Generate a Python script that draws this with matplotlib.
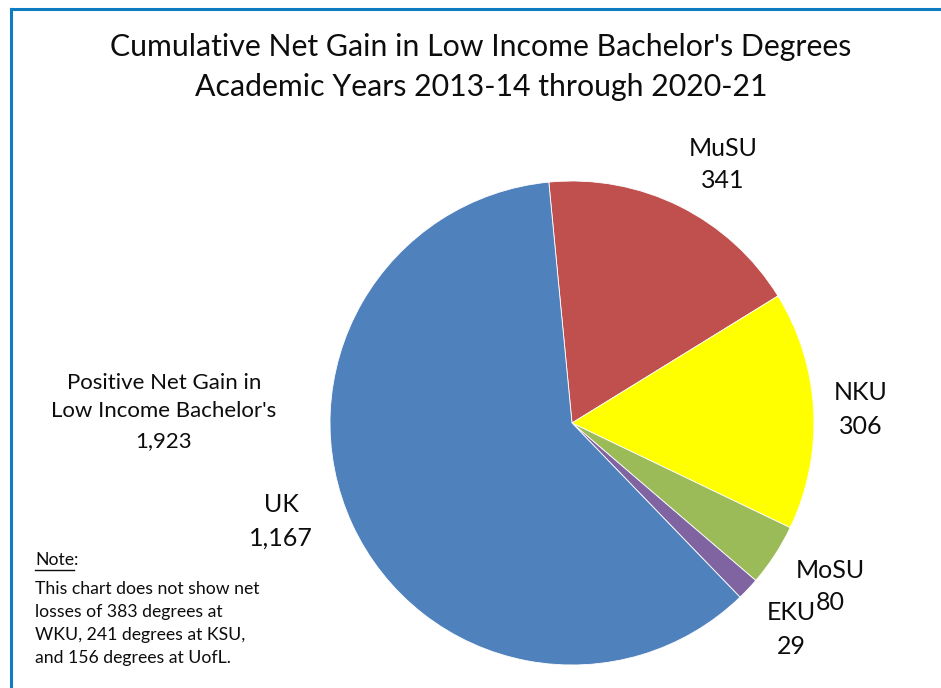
import matplotlib
matplotlib.use("Agg")
import matplotlib.pyplot as plt
from matplotlib.lines import Line2D

plt.rcParams['font.family'] = ['Lato', 'DejaVu Sans']

categories = ["MuSU", "NKU", "MoSU", "EKU", "UK"]
values = [341, 306, 80, 29, 1167]
colors = ["#C0504D", "#FFFF00", "#9BBB59", "#8064A2", "#4F81BD"]
title_lines = ["Cumulative Net Gain in Low Income Bachelor's Degrees",
               "Academic Years 2013-14 through 2020-21"]
note_lines = ["This chart does not show net",
              "losses of 383 degrees at",
              "WKU, 241 degrees at KSU,",
              "and 156 degrees at UofL."]

W, H = 941, 688
fig = plt.figure(figsize=(W / 100, H / 100), dpi=100)
fig.patch.set_facecolor("white")

def fx(px):
    return px / W

def fy(py):
    return 1 - py / H

cx, cy, r = 572, 423, 242
ax = fig.add_axes([fx(cx - r), fy(cy + r), 2 * r / W, 2 * r / H])
ax.pie(values, colors=colors, startangle=95.5, counterclock=False,
       wedgeprops=dict(edgecolor="white", linewidth=0.6))
ax.set_xlim(-1, 1)
ax.set_ylim(-1, 1)
ax.set_aspect("equal")
ax.axis("off")

# Border (left and top lines visible)
fig.add_artist(Line2D([fx(11), fx(11)], [fy(9), 0], color="#0E7CC1", lw=2.2, transform=fig.transFigure))
fig.add_artist(Line2D([fx(11), 1], [fy(9), fy(9)], color="#0E7CC1", lw=2.2, transform=fig.transFigure))

TXT = "#0d0d0d"
# Title
fig.text(fx(481), fy(47), title_lines[0], ha="center", va="center", fontsize=21.8, color=TXT)
fig.text(fx(481), fy(87), title_lines[1], ha="center", va="center", fontsize=21.8, color=TXT)

# Data labels
label_pos = {"MuSU": (723, 148, 180), "NKU": (861, 393, 427), "MoSU": (830, 570, 602),
             "EKU": (791, 612, 647), "UK": (281, 505, 538)}
for name, v in zip(categories, values):
    x, y1, y2 = label_pos[name]
    fig.text(fx(x), fy(y1), name, ha="center", va="center", fontsize=18, color=TXT)
    fig.text(fx(x), fy(y2), f"{v:,}", ha="center", va="center", fontsize=18, color=TXT)

total = sum(values)
fig.text(fx(164), fy(383), "Positive Net Gain in", ha="center", va="center", fontsize=16, color=TXT)
fig.text(fx(164), fy(411), "Low Income Bachelor's", ha="center", va="center", fontsize=16, color=TXT)
fig.text(fx(164), fy(441), f"{total:,}", ha="center", va="center", fontsize=16, color=TXT)

# Note
NFS = 12.7
t_note = fig.text(fx(35), fy(560), "Note", ha="left", va="center", fontsize=NFS, color=TXT)
fig.canvas.draw()
bb = t_note.get_window_extent(renderer=fig.canvas.get_renderer())
fig.text(bb.x1 / W, fy(560), ":", ha="left", va="center", fontsize=NFS, color=TXT)
fig.add_artist(Line2D([bb.x0 / W, bb.x1 / W], [fy(570), fy(570)], color=TXT, lw=1.0,
                      transform=fig.transFigure))
for i, line in enumerate(note_lines):
    fig.text(fx(35), fy(589 + i * 23), line, ha="left", va="center", fontsize=NFS, color=TXT)

fig.savefig("out.png", dpi=100)
